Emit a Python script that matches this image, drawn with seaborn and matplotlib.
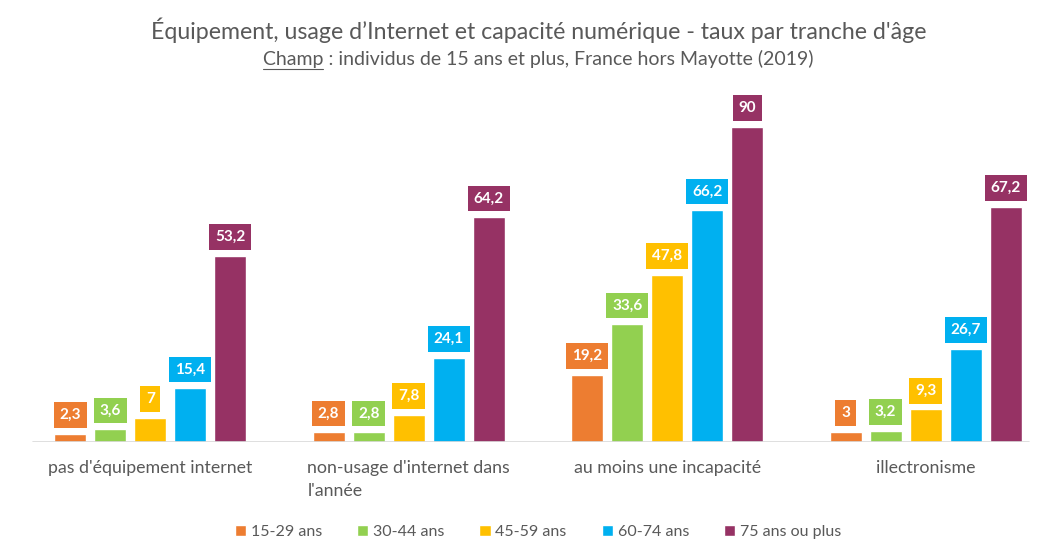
import pandas as pd
import numpy as np
import matplotlib.pyplot as plt
import seaborn as sns

sns.set_style("white")
plt.rcParams['font.family'] = ['Lato', 'DejaVu Sans']

# Data
categories = ["pas d'équipement internet", "non-usage d'internet dans\nl'année",
              "au moins une incapacité", "illectronisme"]
age_groups = ['15-29 ans', '30-44 ans', '45-59 ans', '60-74 ans', '75 ans ou plus']
v_15_29 = [2.3, 2.8, 19.2, 3]
v_30_44 = [3.6, 2.8, 33.6, 3.2]
v_45_59 = [7, 7.8, 47.8, 9.3]
v_60_74 = [15.4, 24.1, 66.2, 26.7]
v_75_plus = [53.2, 64.2, 90, 67.2]
colors = ['#ED7D31', '#92D050', '#FFC000', '#00B0F0', '#963264']

series = [v_15_29, v_30_44, v_45_59, v_60_74, v_75_plus]
rows = []
for age, vals in zip(age_groups, series):
    for cat, v in zip(categories, vals):
        rows.append({'Catégorie': cat, 'Âge': age, 'Taux': v})
df = pd.DataFrame(rows)

text_gray = '#595959'

fig = plt.figure(figsize=(10.59, 5.53), dpi=100)
ax = fig.add_axes([21 / 1059, 111 / 553, 1034 / 1059, 350 / 553])

sns.barplot(data=df, x='Catégorie', y='Taux', hue='Âge', order=categories,
            hue_order=age_groups, palette=colors, width=0.775, gap=0.2,
            saturation=1, ax=ax)

ax.set_ylim(0, 100)
ax.set_xlim(-0.5, 3.5)
ax.set_xlabel('')
ax.set_ylabel('')
ax.set_yticks([])
sns.despine(ax=ax, left=True)
ax.spines['bottom'].set_visible(False)
ax.axhline(0, xmin=0.012, xmax=0.975, color='#d9d9d9', linewidth=1.2)

ax.tick_params(axis='x', length=0, pad=13, labelsize=12.8, labelcolor=text_gray)
for lab in ax.get_xticklabels():
    lab.set_multialignment('left')
    lab.set_linespacing(1.55)

# Value labels in coloured boxes above bars
def fmt(v):
    s = f'{v:g}'
    return s.replace('.', ',')

for container, color in zip(ax.containers, colors):
    for bar in container:
        h = bar.get_height()
        xc = bar.get_x() + bar.get_width() / 2
        ax.annotate(fmt(h), (xc, h), xytext=(0, 13.5), textcoords='offset points',
                    ha='center', va='center', color='white', fontsize=11,
                    fontweight='bold',
                    bbox=dict(boxstyle='square,pad=0.38', fc=color, ec='none'))

# Legend
handles, labels = ax.get_legend_handles_labels()
ax.legend(handles, labels, loc='center', bbox_to_anchor=(0.5, -0.257), ncol=5,
          frameon=False, handlelength=0.7, handleheight=0.7, handletextpad=0.3,
          columnspacing=2.2, fontsize=11.5, labelcolor=text_gray)

# Titles
fig.text(0.509, 0.945, "Équipement, usage d’Internet et capacité numérique - taux par tranche d'âge",
         ha='center', va='center', fontsize=16.7, color=text_gray)
sub = fig.text(0.508, 0.893, "Champ : individus de 15 ans et plus, France hors Mayotte (2019)",
               ha='center', va='center', fontsize=14, color=text_gray)

# underline "Champ"
fig.canvas.draw()
renderer = fig.canvas.get_renderer()
bb = sub.get_window_extent(renderer)
tmp = fig.text(0, 0, "Champ", fontsize=14)
w = tmp.get_window_extent(renderer).width
tmp.remove()
y_line = bb.y0 - 1
fig.add_artist(plt.Line2D([bb.x0 / fig.bbox.width, (bb.x0 + w) / fig.bbox.width],
                          [y_line / fig.bbox.height] * 2, color=text_gray, linewidth=0.8))

plt.savefig('out.png', dpi=100)
plt.close()
